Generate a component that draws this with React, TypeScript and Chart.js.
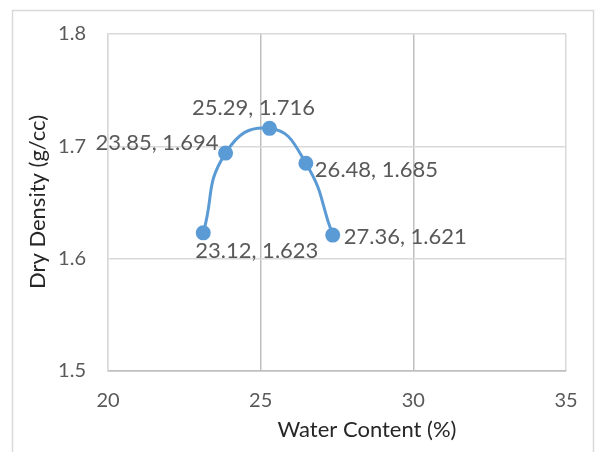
import React, { useEffect, useRef } from "react";
import { Chart, registerables } from "chart.js";

Chart.register(...registerables);

// Compaction test results
const waterContent = [23.12, 23.85, 25.29, 26.48, 27.36];
const dryDensity = [1.623, 1.694, 1.716, 1.685, 1.621];

const xTicks = [20, 25, 30, 35];
const yTicks = [1.5, 1.6, 1.7, 1.8];

const xTitle = "Water Content (%)";
const yTitle = "Dry Density (g/cc)";

// placement of each point's label relative to its marker
const labelPlacement = [
  { align: "left", dx: -8, dy: 18 },
  { align: "right", dx: -7, dy: -10 },
  { align: "center", dx: -16, dy: -20 },
  { align: "left", dx: 9, dy: 7 },
  { align: "left", dx: 11, dy: 2 },
];

const FONT = "Lato, 'Open Sans', sans-serif";
const LINE_BLUE = "#5b9bd5";
const TEXT_GREY = "#595959";

const framePlugin = {
  id: "frame",
  beforeDraw(chart: any) {
    const { ctx, width, height } = chart;
    ctx.save();
    ctx.fillStyle = "#ffffff";
    ctx.fillRect(0, 0, width, height);
    ctx.strokeStyle = "#d9d9d9";
    ctx.lineWidth = 1.5;
    ctx.strokeRect(12.5, 10.5, 581, height + 20);
    ctx.restore();
  },
  afterDatasetsDraw(chart: any) {
    const { ctx } = chart;
    const meta = chart.getDatasetMeta(0);
    ctx.save();
    ctx.font = `22px ${FONT}`;
    ctx.fillStyle = TEXT_GREY;
    ctx.textBaseline = "middle";
    meta.data.forEach((pt: any, i: number) => {
      const p = labelPlacement[i];
      const text = `${waterContent[i].toFixed(2)}, ${dryDensity[i].toFixed(3)}`;
      ctx.textAlign = p.align;
      ctx.fillText(text, pt.x + p.dx, pt.y + p.dy);
    });
    ctx.restore();
  },
  afterDraw(chart: any) {
    const { ctx } = chart;
    ctx.save();
    ctx.font = `22px ${FONT}`;
    ctx.fillStyle = "#262626";
    ctx.textAlign = "center";
    ctx.textBaseline = "middle";
    ctx.fillText(xTitle, 367, 430);
    ctx.translate(38, 202);
    ctx.rotate(-Math.PI / 2);
    ctx.fillText(yTitle, 0, 0);
    ctx.restore();
  },
};

const near = (a: number, b: number) => Math.abs(a - b) < 1e-6;

export default function App() {
  const canvasRef = useRef<HTMLCanvasElement | null>(null);

  useEffect(() => {
    if (!canvasRef.current) return;
    const chart = new Chart(canvasRef.current, {
      type: "scatter",
      data: {
        datasets: [
          {
            data: waterContent.map((x, i) => ({ x, y: dryDensity[i] })),
            showLine: true,
            tension: 0.5,
            borderColor: LINE_BLUE,
            backgroundColor: LINE_BLUE,
            borderWidth: 3,
            pointRadius: 6,
            pointHoverRadius: 6,
            pointBackgroundColor: LINE_BLUE,
            pointBorderColor: LINE_BLUE,
          },
        ],
      },
      options: {
        animation: false,
        responsive: true,
        maintainAspectRatio: false,
        layout: { padding: { top: 32, right: 30, left: 0, bottom: 0 } },
        plugins: {
          legend: { display: false },
          tooltip: { enabled: false },
          title: { display: false },
        },
        scales: {
          x: {
            type: "linear",
            min: xTicks[0],
            max: xTicks[xTicks.length - 1],
            afterBuildTicks: (scale: any) => {
              scale.ticks = xTicks.map((v) => ({ value: v }));
            },
            afterFit: (scale: any) => {
              scale.height = 81;
            },
            ticks: {
              padding: 18,
              color: TEXT_GREY,
              font: { family: FONT, size: 20 },
              callback: (v: any) => String(v),
            },
            grid: {
              drawTicks: false,
              lineWidth: 1.5,
              color: (c: any) =>
                c.tick && (near(c.tick.value, 20) || near(c.tick.value, 35))
                  ? "#d9d9d9"
                  : "#bfbfbf",
            },
            border: { display: true, color: "#bfbfbf", width: 1.5 },
          },
          y: {
            type: "linear",
            min: yTicks[0],
            max: yTicks[yTicks.length - 1],
            afterBuildTicks: (scale: any) => {
              scale.ticks = yTicks.map((v) => ({ value: v }));
            },
            afterFit: (scale: any) => {
              scale.width = 108;
            },
            ticks: {
              padding: 22,
              color: TEXT_GREY,
              font: { family: FONT, size: 20 },
              callback: (v: any) => Number(v).toFixed(1),
            },
            grid: {
              drawTicks: false,
              lineWidth: 1.5,
              color: (c: any) =>
                c.tick && near(c.tick.value, 1.5) ? "#bfbfbf" : "#d9d9d9",
            },
            border: { display: true, color: "#d9d9d9", width: 1.5 },
          },
        },
      },
      plugins: [framePlugin],
    });
    return () => chart.destroy();
  }, []);

  return (
    <div
      style={{
        position: "fixed",
        left: 0,
        top: 0,
        width: 596,
        height: 452,
        background: "#fff",
      }}
    >
      <canvas ref={canvasRef} />
    </div>
  );
}
